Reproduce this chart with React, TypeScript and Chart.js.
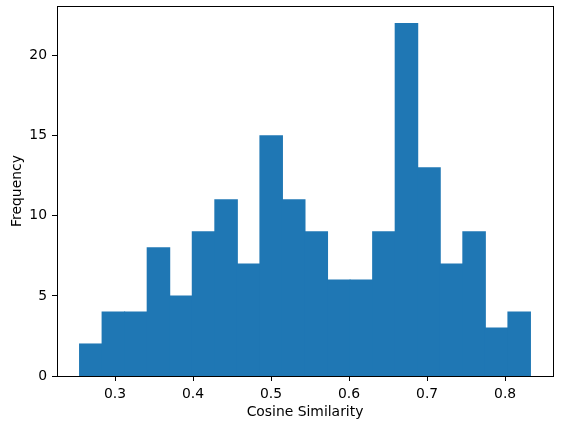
import React, { useEffect, useRef } from "react";
import { Chart, registerables } from "chart.js";

Chart.register(...registerables);

// Histogram of cosine similarity values (20 bins)
const counts = [2, 4, 4, 8, 5, 9, 11, 7, 15, 11, 9, 6, 6, 9, 22, 13, 7, 9, 3, 4];
const binMin = 0.2545;
const binMax = 0.8325;
const xTicks = [0.3, 0.4, 0.5, 0.6, 0.7, 0.8];
const yTicks = [0, 5, 10, 15, 20];
const xLabel = "Cosine Similarity";
const yLabel = "Frequency";

const FONT = "'DejaVu Sans', sans-serif";

const frame = {
  id: "frame",
  afterDraw(chart: any) {
    const { ctx, chartArea } = chart;
    ctx.save();
    ctx.strokeStyle = "#000";
    ctx.lineWidth = 1;
    ctx.strokeRect(
      Math.round(chartArea.left) + 0.5,
      Math.round(chartArea.top) + 0.5,
      Math.round(chartArea.right - chartArea.left),
      Math.round(chartArea.bottom - chartArea.top)
    );
    ctx.restore();
  },
};

export default function App() {
  const ref = useRef<HTMLCanvasElement>(null);
  useEffect(() => {
    if (!ref.current) return;
    const n = counts.length;
    const w = (binMax - binMin) / n;
    const data = counts.map((c, i) => ({ x: binMin + w * (i + 0.5), y: c }));
    const span = binMax - binMin;
    const xMin = binMin - 0.05 * span;
    const xMax = binMax + 0.05 * span;
    const yMax = Math.max(...counts) * 1.05;
    const chart = new Chart(ref.current, {
      type: "bar",
      data: {
        datasets: [
          {
            data,
            backgroundColor: "#1f77b4",
            borderWidth: 0,
            inflateAmount: 0.5,
            barPercentage: 1,
            categoryPercentage: 1,
          },
        ],
      },
      plugins: [frame],
      options: {
        animation: false,
        responsive: false,
        maintainAspectRatio: false,
        layout: { padding: { left: 0, top: 6, right: 9, bottom: 0 } },
        plugins: { legend: { display: false }, tooltip: { enabled: false } },
        scales: {
          x: {
            type: "linear",
            offset: false,
            min: xMin,
            max: xMax,
            afterFit: (s: any) => {
              s.height = 53;
              s.paddingLeft = 0;
              s.paddingRight = 0;
            },
            afterBuildTicks: (s: any) => {
              s.ticks = xTicks.map((v) => ({ value: v }));
            },
            grid: {
              display: true,
              drawOnChartArea: false,
              drawTicks: true,
              tickLength: 5,
              tickColor: "#000",
              offset: false,
            },
            border: { display: true, color: "#000", width: 1 },
            ticks: {
              color: "#000",
              padding: 5,
              maxRotation: 0,
              font: { family: FONT, size: 13.9 },
              callback: (v: any) => Number(v).toFixed(1),
            },
            title: {
              display: true,
              text: xLabel,
              color: "#000",
              font: { family: FONT, size: 13.9 },
              padding: { top: 0, bottom: 8 },
            },
          },
          y: {
            type: "linear",
            min: 0,
            max: yMax,
            afterFit: (s: any) => {
              s.width = 57;
              s.paddingTop = 0;
              s.paddingBottom = 0;
            },
            afterBuildTicks: (s: any) => {
              s.ticks = yTicks.map((v) => ({ value: v }));
            },
            grid: {
              display: true,
              drawOnChartArea: false,
              drawTicks: true,
              tickLength: 5,
              tickColor: "#000",
            },
            border: { display: true, color: "#000", width: 1 },
            ticks: {
              color: "#000",
              padding: 5,
              font: { family: FONT, size: 13.9 },
              callback: (v: any) => String(v),
            },
            title: {
              display: true,
              text: yLabel,
              color: "#000",
              font: { family: FONT, size: 13.9 },
              padding: { top: 8.7, bottom: 0 },
            },
          },
        },
      },
    });
    return () => chart.destroy();
  }, []);
  return (
    <div style={{ position: "absolute", left: 0, top: 0, width: 562, height: 429, background: "#fff" }}>
      <canvas ref={ref} width={562} height={429} style={{ display: "block", width: 562, height: 429 }} />
    </div>
  );
}
